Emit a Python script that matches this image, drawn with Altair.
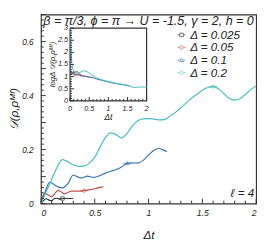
import altair as alt
import pandas as pd

# ---------------- data ----------------
labels = ["Δ = 0.025", "Δ = 0.05", "Δ = 0.1", "Δ = 0.2"]
colors = ["#333333", "#c4504c", "#3c76b0", "#45bdbe"]
# legend / marker symbols: short line stubs with a hollow marker in the middle
shape_paths = [
    "M-1,0L-0.45,0M0.45,0L1,0M-0.45,-0.45L0.45,-0.45L0.45,0.45L-0.45,0.45Z",
    "M-1,0L-0.45,0M0.45,0L1,0M0.45,0A0.45,0.45,0,1,1,-0.45,0A0.45,0.45,0,1,1,0.45,0Z",
    "M-1,0L-0.4,0M0.4,0L1,0M0,-0.5L0.5,0.35L-0.5,0.35Z",
    "M-1,0L-0.5,0M0.5,0L1,0M0,-0.5L0.5,0L0,0.5L-0.5,0Z",
]
marker_t = [0.2, 0.4, 0.8, 1.6]

t_a = [0, 0.025, 0.05, 0.075, 0.1, 0.125, 0.15, 0.175, 0.2, 0.225, 0.25, 0.275, 0.3]
d_a = [0, 0.012, 0.018, 0.013, 0.011, 0.019, 0.020, 0.016, 0.019, 0.019, 0.019, 0.019, 0.019]

t_b = [0, 0.02, 0.04, 0.07, 0.1, 0.13, 0.16, 0.19, 0.22, 0.25, 0.28, 0.32, 0.36, 0.4, 0.45, 0.5, 0.55, 0.58]
d_b = [0, 0.030, 0.038, 0.031, 0.025, 0.038, 0.049, 0.043, 0.036, 0.041, 0.046, 0.046, 0.046, 0.048, 0.051, 0.055, 0.060, 0.062]

t_c = [0, 0.04, 0.08, 0.12, 0.16, 0.2, 0.25, 0.3, 0.34, 0.38, 0.43, 0.49, 0.55, 0.6, 0.65,
       0.7, 0.75, 0.8, 0.85, 0.9, 0.95, 1.0, 1.05, 1.09, 1.13, 1.17]
d_c = [0, 0.045, 0.079, 0.071, 0.062, 0.058, 0.074, 0.106, 0.099, 0.095, 0.102, 0.097, 0.104, 0.113, 0.120,
       0.126, 0.136, 0.149, 0.151, 0.150, 0.160, 0.180, 0.198, 0.204, 0.200, 0.192]

t_d = [0, 0.05, 0.1, 0.15, 0.2, 0.25, 0.3, 0.35, 0.4, 0.45, 0.5, 0.55, 0.6, 0.65, 0.7, 0.75, 0.8,
       0.85, 0.9, 0.95, 1.0, 1.05, 1.1, 1.15, 1.2, 1.25, 1.3, 1.35, 1.4, 1.45, 1.5, 1.55, 1.6,
       1.65, 1.7, 1.75, 1.8, 1.85, 1.9, 1.95, 2.0]
d_d = [0, 0.045, 0.09, 0.135, 0.163, 0.155, 0.143, 0.138, 0.139, 0.150, 0.172, 0.210, 0.245, 0.262,
       0.255, 0.243, 0.260, 0.288, 0.307, 0.314, 0.315, 0.313, 0.310, 0.312, 0.324, 0.338, 0.355,
       0.373, 0.390, 0.405, 0.420, 0.430, 0.433, 0.425, 0.407, 0.390, 0.383, 0.388, 0.405, 0.422, 0.436]

# inset: log_Delta D
it_a = [0.02, 0.05, 0.08, 0.12, 0.16, 0.2, 0.25, 0.3]
iv_a = [1.25, 1.10, 1.20, 1.05, 1.12, 1.07, 1.07, 1.07]
it_b = [0.02, 0.05, 0.1, 0.15, 0.2, 0.25, 0.3, 0.4, 0.5, 0.6]
iv_b = [1.20, 1.10, 1.22, 1.05, 1.10, 1.08, 1.05, 1.02, 0.98, 0.95]
it_c = [0.03, 0.08, 0.12, 0.16, 0.2, 0.25, 0.3, 0.36, 0.42, 0.5, 0.6, 0.7, 0.8, 0.9, 1.0,
        1.1, 1.2, 1.3, 1.4, 1.5, 1.55]
iv_c = [1.15, 1.12, 1.18, 1.22, 1.20, 1.10, 1.00, 1.02, 1.00, 0.99, 0.95, 0.90, 0.86, 0.82, 0.78,
        0.74, 0.72, 0.68, 0.66, 0.64, 0.63]
it_d = [0.02, 0.03, 0.06, 0.1, 0.15, 0.2, 0.25, 0.3, 0.36, 0.42, 0.48, 0.54, 0.6, 0.7, 0.8, 0.9,
        1.0, 1.1, 1.2, 1.3, 1.4, 1.5, 1.6, 1.7, 1.8, 1.9, 2.0]
iv_d = [2.95, 2.00, 1.45, 1.22, 1.17, 1.15, 1.17, 1.20, 1.24, 1.22, 1.17, 1.10, 1.03, 0.95, 0.88,
        0.84, 0.80, 0.76, 0.72, 0.70, 0.67, 0.63, 0.58, 0.55, 0.57, 0.57, 0.55]

x_ticks = [0, 0.5, 1, 1.5, 2]
y_ticks = [0, 0.1, 0.2, 0.3, 0.4, 0.5, 0.6, 0.7]
x_minor = [round(0.1 * i, 2) for i in range(21) if i % 5]
y_minor = [round(0.02 * i, 3) for i in range(36) if i % 5]
ix_ticks = [0, 0.5, 1, 1.5, 2]
ix_tick_labels = ["0", "0.5", "1", "1.5", "2"]
iy_ticks = [0, 0.5, 1, 1.5, 2, 2.5, 3]
iy_tick_labels = ["0", "0.5", "1", "1.5", "2", "2.5", "3"]
ix_minor = [round(0.1 * i, 2) for i in range(21) if i % 5]
iy_minor = [round(0.1 * i, 2) for i in range(31) if i % 5]
inset_xdomain = [0, 2]
inset_ydomain = [0, 3]

title_text = "β = π/3, ϕ = π → U = -1.5, γ = 2, h = 0"
ell_text = "ℓ = 4"
main_ytitle = "𝒟(ρ,ρᴹᶠ)"
inset_xtitle = "Δt"
inset_ytitle = "logΔ 𝒟(ρ,ρᴹᶠ)"

# ---------------- layout ----------------
W, H = 222, 195
XMAX, YMAX = 2.0, 0.7
FONT = "Liberation Sans"
INK = "#222"
# inset box in pixels of the plot area
IX0, IX1, IY0, IY1 = 30, 109, 89, 14
# same box expressed in main-axis data units (inset values are mapped into it)
BT0, BT1 = IX0 / W * XMAX, IX1 / W * XMAX
BD0, BD1 = (H - IY0) / H * YMAX, (H - IY1) / H * YMAX
map_t = f"{BT0} + (datum.t - {inset_xdomain[0]}) / {inset_xdomain[1] - inset_xdomain[0]} * {BT1 - BT0}"
map_v = f"{BD0} + (datum.v - {inset_ydomain[0]}) / {inset_ydomain[1] - inset_ydomain[0]} * {BD1 - BD0}"

main_rows = []
for lab, ts, ds, mt in zip(labels, [t_a, t_b, t_c, t_d], [d_a, d_b, d_c, d_d], marker_t):
    for t, d in zip(ts, ds):
        main_rows.append({"t": t, "d": d, "series": lab, "marker": abs(t - mt) < 1e-9})
main_df = pd.DataFrame(main_rows)

inset_rows = []
for lab, ts, vs in zip(labels, [it_a, it_b, it_c, it_d], [iv_a, iv_b, iv_c, iv_d]):
    for t, v in zip(ts, vs):
        inset_rows.append({"t": t, "v": v, "series": lab})
inset_df = pd.DataFrame(inset_rows)

color_scale = alt.Scale(domain=labels, range=colors)
shape_scale = alt.Scale(domain=labels, range=shape_paths)
xs = alt.Scale(domain=[0, XMAX], nice=False, zero=False)
ys = alt.Scale(domain=[0, YMAX], nice=False, zero=False)

leg = alt.Legend(orient="none", legendX=139, legendY=15, title=None, labelFont=FONT,
                 labelFontSize=12, labelFontStyle="italic", labelColor=INK,
                 symbolSize=64, symbolStrokeWidth=1, rowPadding=1, labelOffset=3, padding=0)

x_axis = alt.Axis(orient="bottom", values=x_ticks, format=".1~f", ticks=False,
                  labelPadding=5, labelFontSize=9, labelOverlap=False,
                  titleFontSize=12, titlePadding=13)
y_axis = alt.Axis(orient="left", values=y_ticks, format=".1~f", ticks=False,
                  labelPadding=8, labelFontSize=8.5, labelOverlap=False)

lines = alt.Chart(main_df).mark_line(interpolate="monotone", strokeWidth=1.2).encode(
    x=alt.X("t:Q", scale=xs, axis=x_axis, title="Δt"),
    y=alt.Y("d:Q", scale=ys, axis=y_axis, title=None),
    color=alt.Color("series:N", scale=color_scale, legend=leg),
)

markers = alt.Chart(main_df).transform_filter("datum.marker").mark_point(
    filled=False, size=64, strokeWidth=1).encode(
    x="t:Q", y="d:Q",
    color=alt.Color("series:N", scale=color_scale, legend=leg),
    shape=alt.Shape("series:N", scale=shape_scale, legend=leg),
)

# inward tick marks (major + minor) through the main scales
xt_df = pd.DataFrame({"t": x_ticks + x_minor, "len": [5] * len(x_ticks) + [3] * len(x_minor)})
yt_df = pd.DataFrame({"d": y_ticks + y_minor, "len": [5] * len(y_ticks) + [3] * len(y_minor)})
xt_major = alt.Chart(xt_df).transform_filter("datum.len == 5").mark_rule(color="#333", strokeWidth=1).encode(
    x="t:Q", y=alt.value(H), y2=alt.value(H - 5))
xt_minor = alt.Chart(xt_df).transform_filter("datum.len == 3").mark_rule(color="#333", strokeWidth=1).encode(
    x="t:Q", y=alt.value(H), y2=alt.value(H - 3))
yt_major = alt.Chart(yt_df).transform_filter("datum.len == 5").mark_rule(color="#333", strokeWidth=1).encode(
    y="d:Q", x=alt.value(0), x2=alt.value(5))
yt_minor = alt.Chart(yt_df).transform_filter("datum.len == 3").mark_rule(color="#333", strokeWidth=1).encode(
    y="d:Q", x=alt.value(0), x2=alt.value(3))

txt_df = pd.DataFrame({"title": [title_text], "ell": [ell_text], "ytitle": [main_ytitle],
                       "ixtitle": [inset_xtitle], "ititle": [inset_ytitle]})
y_title = alt.Chart(txt_df).mark_text(font=FONT, fontSize=12, fontStyle="italic", color=INK,
                                      align="center", baseline="middle", angle=270).encode(
    text="ytitle:N", x=alt.value(-28), y=alt.value(H / 2))
title_mark = alt.Chart(txt_df).mark_text(font=FONT, fontSize=12.9, fontStyle="italic",
                                          color=INK, align="center", baseline="middle").encode(
    text="title:N", x=alt.value(111), y=alt.value(7))
ell_mark = alt.Chart(txt_df).mark_text(font=FONT, fontSize=12, fontStyle="italic",
                                        color=INK, align="right", baseline="alphabetic").encode(
    text="ell:N", x=alt.value(220), y=alt.value(188))

# ---------------- inset (mapped into its box) ----------------
frame_df = pd.DataFrame({"t": [inset_xdomain[0]], "t2": [inset_xdomain[1]],
                         "v": [inset_ydomain[0]], "v2": [inset_ydomain[1]]})
frame = alt.Chart(frame_df).transform_calculate(
    tm=map_t, dm=map_v,
    tm2=map_t.replace("datum.t", "datum.t2"), dm2=map_v.replace("datum.v", "datum.v2"),
).mark_rect(fill="white", stroke="#333", strokeWidth=1.2).encode(
    x="tm:Q", x2="tm2:Q", y="dm:Q", y2="dm2:Q")

inset_lines = alt.Chart(inset_df).transform_calculate(tm=map_t, dm=map_v).mark_line(
    interpolate="monotone", strokeWidth=1).encode(
    x="tm:Q", y="dm:Q",
    color=alt.Color("series:N", scale=color_scale, legend=leg),
)

ixt_df = pd.DataFrame({"t": ix_ticks + ix_minor, "len": [4] * len(ix_ticks) + [2] * len(ix_minor)})
iyt_df = pd.DataFrame({"v": iy_ticks + iy_minor, "len": [4] * len(iy_ticks) + [2] * len(iy_minor)})
ixt_major = alt.Chart(ixt_df).transform_filter("datum.len == 4").transform_calculate(tm=map_t).mark_rule(
    color="#333", strokeWidth=1).encode(x="tm:Q", y=alt.value(IY0), y2=alt.value(IY0 - 4))
ixt_minor = alt.Chart(ixt_df).transform_filter("datum.len == 2").transform_calculate(tm=map_t).mark_rule(
    color="#333", strokeWidth=1).encode(x="tm:Q", y=alt.value(IY0), y2=alt.value(IY0 - 2))
iyt_major = alt.Chart(iyt_df).transform_filter("datum.len == 4").transform_calculate(dm=map_v).mark_rule(
    color="#333", strokeWidth=1).encode(y="dm:Q", x=alt.value(IX0), x2=alt.value(IX0 + 4))
iyt_minor = alt.Chart(iyt_df).transform_filter("datum.len == 2").transform_calculate(dm=map_v).mark_rule(
    color="#333", strokeWidth=1).encode(y="dm:Q", x=alt.value(IX0), x2=alt.value(IX0 + 2))

ix_lab_df = pd.DataFrame({"t": ix_ticks, "lab": ix_tick_labels})
ix_labels = alt.Chart(ix_lab_df).transform_calculate(tm=map_t).mark_text(
    font=FONT, fontSize=7.5, fontStyle="italic", color=INK, align="center", baseline="top").encode(
    x="tm:Q", y=alt.value(IY0 + 4), text="lab:N")
iy_lab_df = pd.DataFrame({"v": iy_ticks, "lab": iy_tick_labels})
iy_labels = alt.Chart(iy_lab_df).transform_calculate(dm=map_v).mark_text(
    font=FONT, fontSize=7.5, fontStyle="italic", color=INK, align="right", baseline="middle").encode(
    y="dm:Q", x=alt.value(IX0 - 2), text="lab:N")
ix_title = alt.Chart(txt_df).mark_text(font=FONT, fontSize=9, fontStyle="italic", color=INK,
                                       align="center", baseline="middle").encode(
    text="ixtitle:N", x=alt.value((IX0 + IX1) / 2), y=alt.value(IY0 + 17))
iy_title = alt.Chart(txt_df).mark_text(font=FONT, fontSize=8, fontStyle="italic", color=INK,
                                       align="center", baseline="middle", angle=270).encode(
    text="ititle:N", x=alt.value(IX0 - 18), y=alt.value((IY0 + IY1) / 2))

chart = alt.layer(
    lines, markers, xt_major, xt_minor, yt_major, yt_minor, y_title, title_mark, ell_mark,
    frame, inset_lines, ixt_major, ixt_minor, iyt_major, iyt_minor,
    ix_labels, iy_labels, ix_title, iy_title,
).properties(
    width=W, height=H,
    autosize=alt.AutoSizeParams(type="none"),
    padding={"left": 34, "top": 3, "right": 5, "bottom": 42},
).configure_view(stroke="#333", strokeWidth=1.2).configure_axis(
    labelFont=FONT, titleFont=FONT, labelFontStyle="italic", titleFontStyle="italic",
    titleFontWeight="normal", labelColor=INK, titleColor=INK,
    grid=False, domain=False,
)

chart.save("out.html", embed_options={"renderer": "svg", "actions": False})
